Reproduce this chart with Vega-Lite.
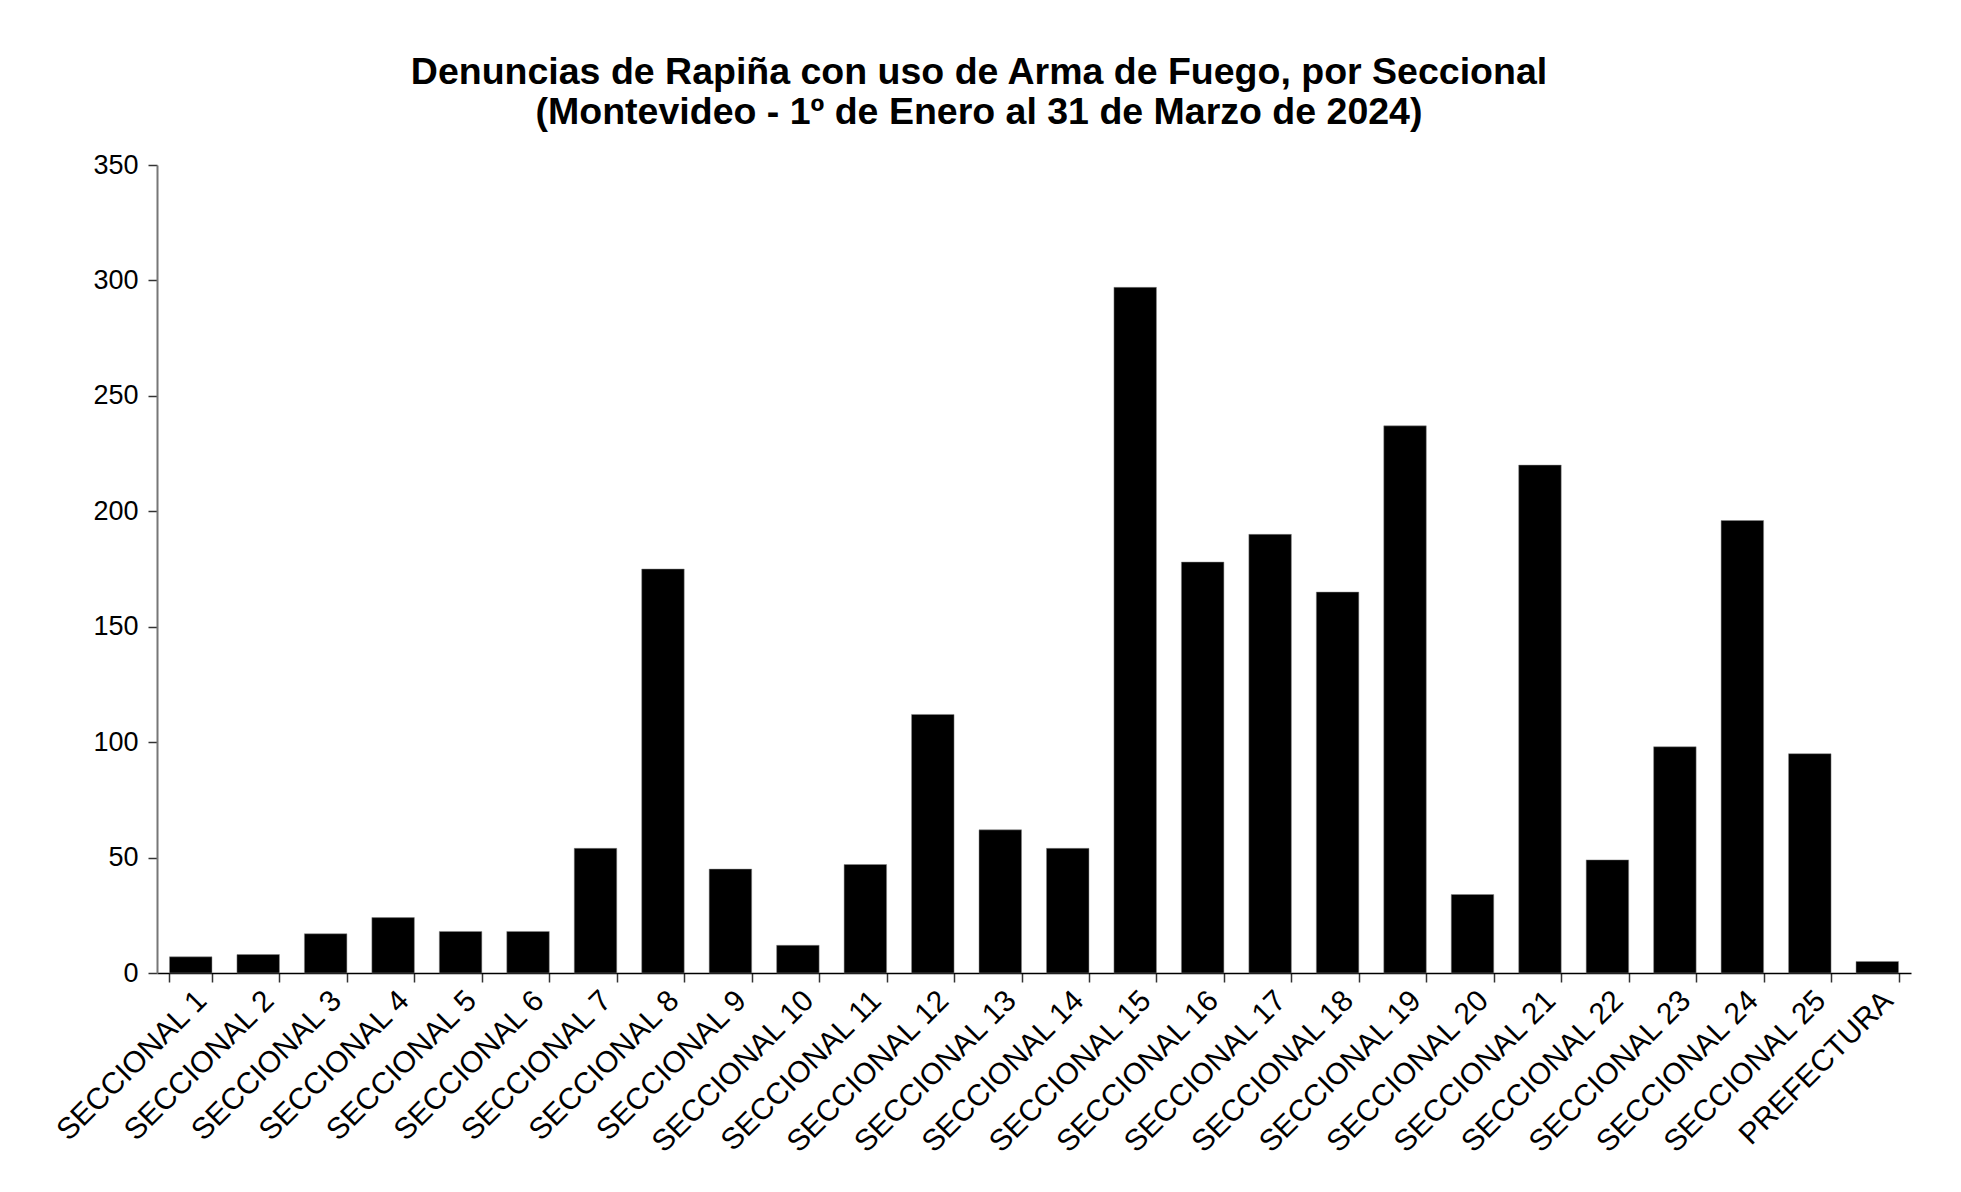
{
  "$schema": "https://vega.github.io/schema/vega-lite/v6.json",
  "width": 1754,
  "height": 808,
  "autosize": {"type": "none"},
  "padding": {"left": 157, "top": 165, "right": 50, "bottom": 219},
  "background": "white",
  "title": {
    "text": ["Denuncias de Rapiña con uso de Arma de Fuego, por Seccional", "(Montevideo - 1º de Enero al 31 de Marzo de 2024)"],
    "font": "Liberation Sans",
    "fontSize": 37.5,
    "fontWeight": "bold",
    "lineHeight": 40,
    "color": "black",
    "anchor": "middle",
    "dx": -55,
    "offset": 20
  },
  "data": {
    "values": [
      {"seccional": "SECCIONAL 1", "denuncias": 7},
      {"seccional": "SECCIONAL 2", "denuncias": 8},
      {"seccional": "SECCIONAL 3", "denuncias": 17},
      {"seccional": "SECCIONAL 4", "denuncias": 24},
      {"seccional": "SECCIONAL 5", "denuncias": 18},
      {"seccional": "SECCIONAL 6", "denuncias": 18},
      {"seccional": "SECCIONAL 7", "denuncias": 54},
      {"seccional": "SECCIONAL 8", "denuncias": 175},
      {"seccional": "SECCIONAL 9", "denuncias": 45},
      {"seccional": "SECCIONAL 10", "denuncias": 12},
      {"seccional": "SECCIONAL 11", "denuncias": 47},
      {"seccional": "SECCIONAL 12", "denuncias": 112},
      {"seccional": "SECCIONAL 13", "denuncias": 62},
      {"seccional": "SECCIONAL 14", "denuncias": 54},
      {"seccional": "SECCIONAL 15", "denuncias": 297},
      {"seccional": "SECCIONAL 16", "denuncias": 178},
      {"seccional": "SECCIONAL 17", "denuncias": 190},
      {"seccional": "SECCIONAL 18", "denuncias": 165},
      {"seccional": "SECCIONAL 19", "denuncias": 237},
      {"seccional": "SECCIONAL 20", "denuncias": 34},
      {"seccional": "SECCIONAL 21", "denuncias": 220},
      {"seccional": "SECCIONAL 22", "denuncias": 49},
      {"seccional": "SECCIONAL 23", "denuncias": 98},
      {"seccional": "SECCIONAL 24", "denuncias": 196},
      {"seccional": "SECCIONAL 25", "denuncias": 95},
      {"seccional": "PREFECTURA", "denuncias": 5}
    ]
  },
  "mark": {"type": "bar", "color": "black", "stroke": "#888888", "strokeWidth": 0.5},
  "encoding": {
    "x": {
      "field": "seccional",
      "type": "nominal",
      "sort": null,
      "title": null,
      "scale": {"paddingInner": 0.37, "paddingOuter": 0.185},
      "axis": {
        "labelAngle": -45,
        "labelAlign": "right",
        "labelBaseline": "top",
        "labelPadding": 3,
        "labelFont": "Liberation Sans",
        "labelFontSize": 30,
        "labelColor": "black",
        "labelOverlap": false,
        "labelBound": false,
        "labelLimit": 600,
        "tickBand": "extent",
        "tickSize": 9,
        "tickColor": "#333333",
        "tickWidth": 1.5,
        "domainColor": "black",
        "domainWidth": 1.5,
        "grid": false
      }
    },
    "y": {
      "field": "denuncias",
      "type": "quantitative",
      "title": null,
      "scale": {"domain": [0, 350], "nice": false},
      "axis": {
        "values": [0, 50, 100, 150, 200, 250, 300, 350],
        "labelFont": "Liberation Sans",
        "labelFontSize": 27,
        "labelColor": "black",
        "labelPadding": 10,
        "tickSize": 9,
        "tickColor": "#333333",
        "tickWidth": 1.5,
        "domainColor": "#777777",
        "domainWidth": 2,
        "grid": false
      }
    }
  },
  "config": {
    "view": {"stroke": null}
  }
}
